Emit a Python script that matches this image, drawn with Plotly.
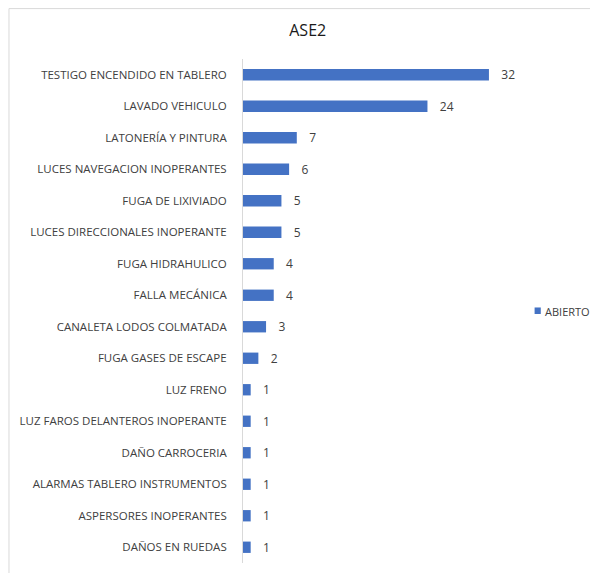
import plotly.graph_objects as go

categories = [
    "TESTIGO ENCENDIDO EN TABLERO",
    "LAVADO VEHICULO",
    "LATONERÍA Y PINTURA",
    "LUCES NAVEGACION INOPERANTES",
    "FUGA DE LIXIVIADO",
    "LUCES DIRECCIONALES INOPERANTE",
    "FUGA HIDRAHULICO",
    "FALLA MECÁNICA",
    "CANALETA LODOS COLMATADA",
    "FUGA GASES DE ESCAPE",
    "LUZ FRENO",
    "LUZ FAROS DELANTEROS INOPERANTE",
    "DAÑO CARROCERIA",
    "ALARMAS TABLERO INSTRUMENTOS",
    "ASPERSORES INOPERANTES",
    "DAÑOS EN RUEDAS",
]
abierto = [32, 24, 7, 6, 5, 5, 4, 4, 3, 2, 1, 1, 1, 1, 1, 1]
series_name = "ABIERTO"

bar_color = "#4472C4"
txt = "#404040"
font = "Open Sans, Liberation Sans, sans-serif"

# page body has an 8px margin, so the figure is 8px smaller than the window
fig = go.Figure()
fig.add_trace(
    go.Bar(
        x=abierto,
        y=categories,
        orientation="h",
        name=series_name,
        marker=dict(color=bar_color, line=dict(width=0)),
        text=abierto,
        texttemplate="   %{x}",
        textposition="outside",
        constraintext="none",
        textfont=dict(size=12, color=txt),
        cliponaxis=False,
        showlegend=False,
    )
)

fig.update_layout(
    width=590,
    height=565,
    margin=dict(l=235, r=86, t=51, b=10),
    paper_bgcolor="white",
    plot_bgcolor="white",
    font=dict(family=font, size=11.5, color=txt),
    bargap=0.64,
    title=dict(text="ASE2", x=0.508, xanchor="center", y=0.961, yanchor="middle",
               font=dict(size=16, color="#1a1a1a")),
    xaxis=dict(range=[0, 35], showgrid=False, showticklabels=False, zeroline=False,
               showline=False, fixedrange=True),
    yaxis=dict(autorange="reversed", showline=True, linecolor="#d9d9d9", linewidth=1,
               ticks="", ticklabelstandoff=13, tickfont=dict(size=11.5, color=txt)),
    showlegend=False,
    shapes=[
        dict(type="line", xref="paper", yref="paper", x0=-0.87, x1=1.4, y0=1.1, y1=1.1,
             line=dict(color="#d9d9d9", width=1)),
        dict(type="line", xref="paper", yref="paper", x0=-0.87, x1=-0.87, y0=1.1, y1=-0.1,
             line=dict(color="#d9d9d9", width=1)),
        # legend swatch
        dict(type="rect", xref="paper", yref="paper", x0=1.084, x1=1.107, y0=0.494, y1=0.507,
             fillcolor=bar_color, line=dict(width=0)),
    ],
    annotations=[
        dict(text=series_name, xref="paper", yref="paper", x=1.116, y=0.5,
             xanchor="left", yanchor="middle", showarrow=False,
             font=dict(size=11, color=txt)),
    ],
)

fig.write_html("out.html")
